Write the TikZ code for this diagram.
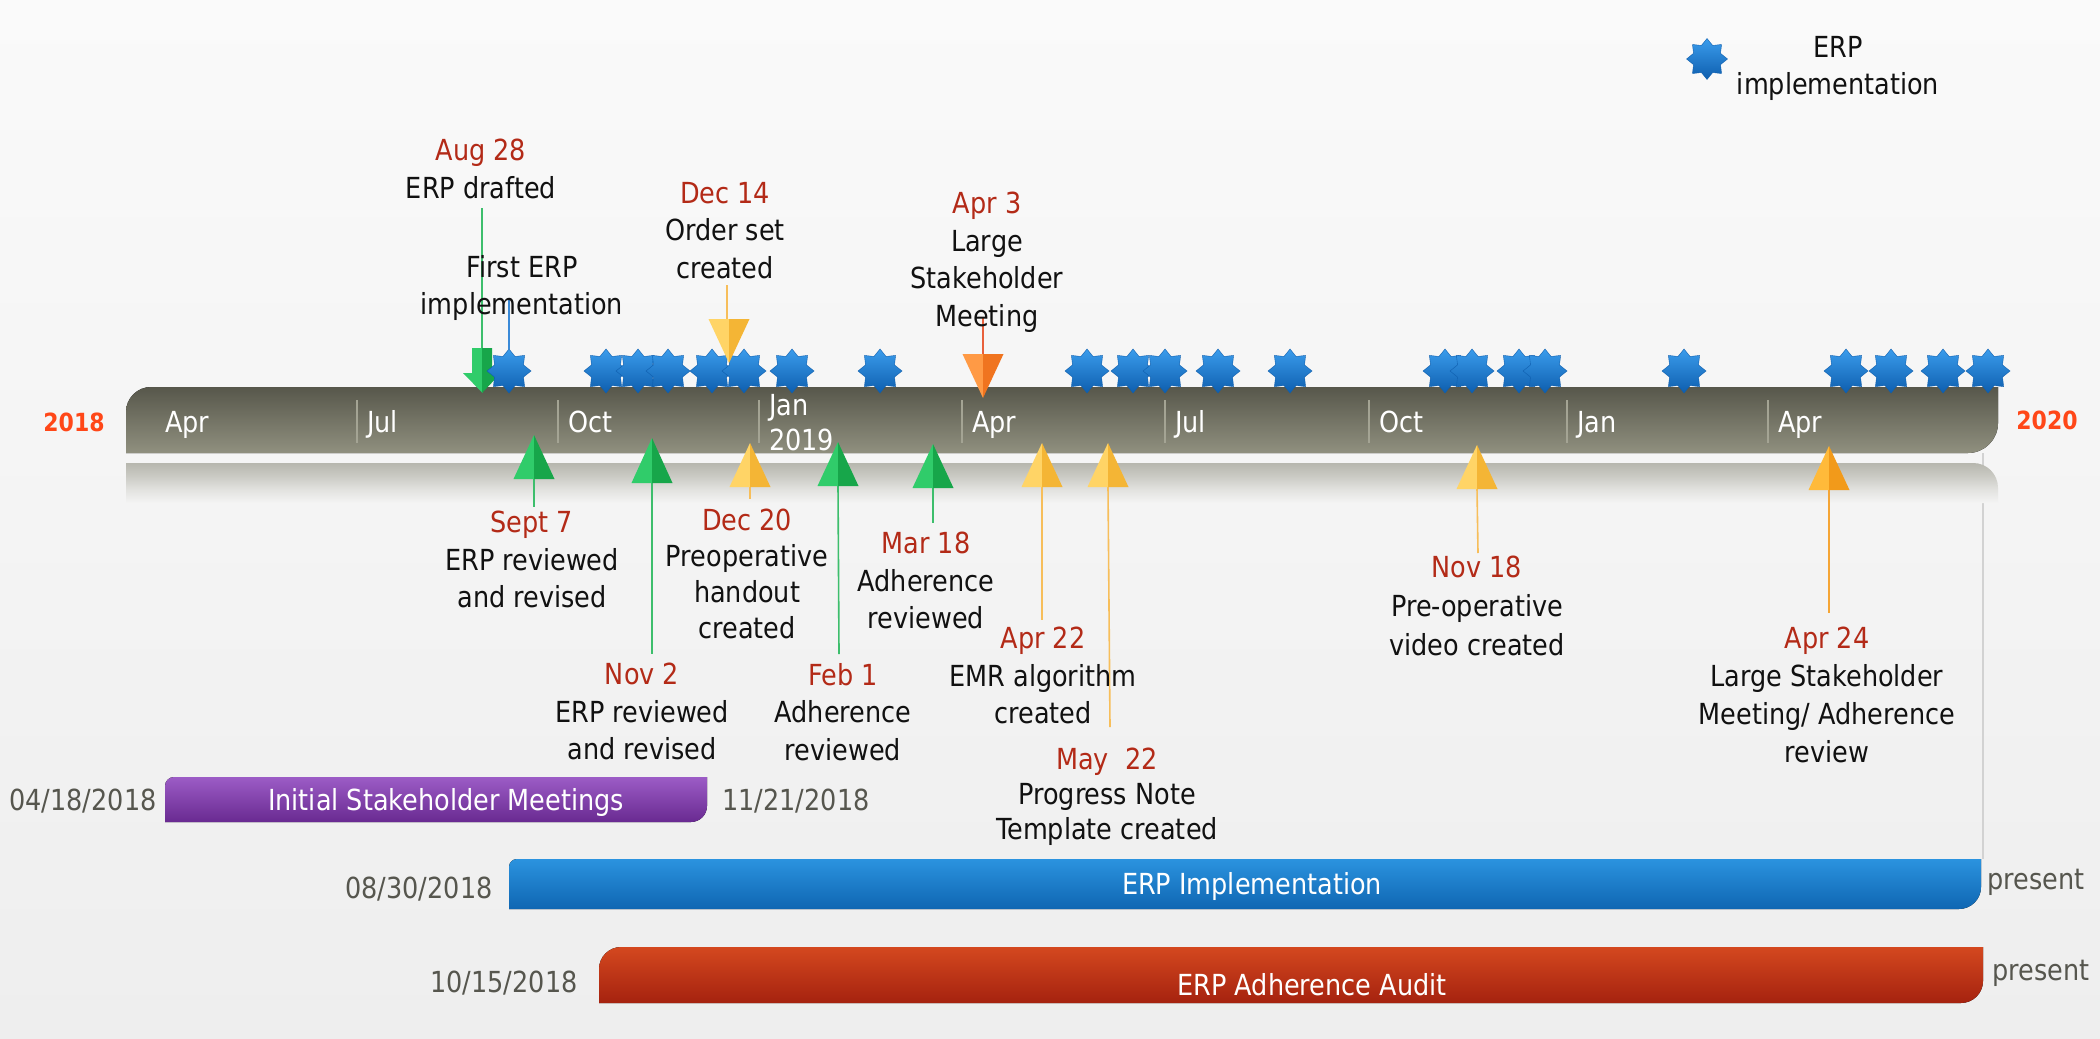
\documentclass[tikz,border=0pt]{standalone}
\usepackage{fontspec}
\setmainfont{DejaVu Sans}[FakeStretch=0.88]
\usetikzlibrary{shapes.geometric}
\definecolor{datered}{HTML}{B32A17}
\definecolor{yearred}{HTML}{FF4718}
\definecolor{txt}{HTML}{111111}
\definecolor{graytxt}{HTML}{56564E}
\definecolor{bgtop}{HTML}{FAFAFA}
\definecolor{bgbot}{HTML}{EEEEEE}
\definecolor{barTop}{HTML}{57574B}
\definecolor{barBot}{HTML}{90907F}
\definecolor{reflTop}{HTML}{B7B7AE}
\definecolor{reflA}{HTML}{CBCBC5}
\definecolor{reflB}{HTML}{E2E2DF}
\definecolor{reflBot}{HTML}{F4F4F4}
\definecolor{tickc}{HTML}{A4A494}
\definecolor{starhi}{HTML}{3A9CEC}
\definecolor{starlo}{HTML}{0E5EAE}
\definecolor{grnL}{HTML}{30CC6A}
\definecolor{grnR}{HTML}{17A64A}
\definecolor{grnLine}{HTML}{3DBE6C}
\definecolor{ylwL}{HTML}{FFD466}
\definecolor{ylwR}{HTML}{F4B535}
\definecolor{ylwLine}{HTML}{F7BE5A}
\definecolor{orgL}{HTML}{FF9A45}
\definecolor{orgR}{HTML}{F0741F}
\definecolor{orgLine}{HTML}{E8603C}
\definecolor{ambL}{HTML}{FFBA3A}
\definecolor{ambR}{HTML}{F29A1A}
\definecolor{ambLine}{HTML}{F5A535}
\definecolor{bluLine}{HTML}{3A8AD8}
\definecolor{purTop}{HTML}{9C5CC6}
\definecolor{purBot}{HTML}{692A91}
\definecolor{bluTop}{HTML}{2B93DF}
\definecolor{bluBot}{HTML}{0F66B2}
\definecolor{redTop}{HTML}{D4481F}
\definecolor{redBot}{HTML}{A5220F}
\definecolor{todayc}{HTML}{D2D2D2}

\pgfdeclareverticalshading{reflshade}{100bp}{color(0bp)=(reflBot); color(25bp)=(reflBot); color(42bp)=(reflB); color(58bp)=(reflA); color(75bp)=(reflTop); color(100bp)=(reflTop)}

\newcommand\roundbar[7]{\fill[#7] (#1,#4) -- (#1,#2+#5) .. controls (#1,#2+0.448*#5) and (#1+0.448*#5,#2) .. (#1+#5,#2) -- (#3,#2) -- (#3,#4-#6) .. controls (#3,#4-0.448*#6) and (#3-0.448*#6,#4) .. (#3-#6,#4) -- cycle;}
\newcommand\uptri[5]{%
  \fill[#4] (#1,#2) -- (#1-20.5,#3) -- (#1+0.5,#3) -- cycle;
  \fill[#5] (#1,#2) -- (#1+20.5,#3) -- (#1,#3) -- cycle;}
\newcommand\dntri[5]{%
  \fill[#4] (#1-20.5,#2) -- (#1+0.5,#2) -- (#1,#3) -- cycle;
  \fill[#5] (#1,#2) -- (#1+20.5,#2) -- (#1,#3) -- cycle;}

\begin{document}
\begin{tikzpicture}[x=1pt,y=-1pt,
  lbl/.style={align=center, inner sep=0pt, anchor=north, text=txt, font=\fontsize{29}{37.5}\selectfont},
  monthlbl/.style={anchor=base west, inner sep=0pt, text=white, font=\fontsize{29}{35}\selectfont},
  yearlbl/.style={anchor=base, inner sep=0pt, text=yearred, font=\fontsize{25}{30}\selectfont\bfseries},
  barlbl/.style={anchor=base, inner sep=0pt, text=white, font=\fontsize{29}{35}\selectfont},
  graylbl/.style={anchor=base, inner sep=0pt, text=graytxt, font=\fontsize{29}{35}\selectfont},
  erpstar/.style={star, star points=8, star point ratio=1.4, minimum size=44pt, inner sep=0pt,
    top color=starhi, bottom color=starlo, draw=starlo, line width=0.4pt},
  conn/.style={line width=1.6pt},
  tickline/.style={draw=tickc, line width=1.5pt}
]
\useasboundingbox (0,0) rectangle (2100,1038);
\fill[top color=bgtop, bottom color=bgbot] (0,0) rectangle (2100,1038);

% today line
\coordinate (todA) at (1983,453);
\coordinate (todB) at (1983,859);
\draw[todayc, line width=1.4pt] (todA) -- (todB);

% reflection band
\path[shading=reflshade] (126,503) -- (126,463) -- (1973,463) .. controls (1987,463) and (1998,474) .. (1998,488) -- (1998,503) -- cycle;

% main bar
\roundbar{126}{387}{1998}{453}{25}{30}{top color=barTop, bottom color=barBot}

% ticks
\foreach \t in {357,558,759,962,1165,1369,1567,1768}
  \draw[tickline] (\t,400) -- (\t,443);

% months
\node[monthlbl] (m1) at (165,432.5) {Apr};
\node[monthlbl] (m2) at (367,432.5) {Jul};
\node[monthlbl] (m3) at (568,432.5) {Oct};
\node[monthlbl] (m4) at (769,415.5) {Jan};
\node[monthlbl] (m4b) at (769,450.5) {2019};
\node[monthlbl] (m5) at (972,432.5) {Apr};
\node[monthlbl] (m6) at (1175,432.5) {Jul};
\node[monthlbl] (m7) at (1379,432.5) {Oct};
\node[monthlbl] (m8) at (1577,432.5) {Jan};
\node[monthlbl] (m9) at (1778,432.5) {Apr};

\node[yearlbl] (y18) at (74,431) {2018};
\node[yearlbl] (y20) at (2047,429) {2020};

% ---------- lower events: connectors ----------
\coordinate (sepA) at (534,479);  \coordinate (sepL) at (534,507);
\coordinate (novA) at (652,483);  \coordinate (novL) at (652,654);
\coordinate (decA) at (750,487);  \coordinate (decL) at (750,499);
\coordinate (febA) at (838,486);  \coordinate (febL) at (839,654);
\coordinate (marA) at (933,488);  \coordinate (marL) at (933,523);
\coordinate (apA) at (1042,487);  \coordinate (apL) at (1042,620);
\coordinate (mayA) at (1108,487); \coordinate (mayL) at (1110,727);
\coordinate (nvA) at (1477,489);  \coordinate (nvL) at (1478,553);
\coordinate (a24A) at (1829,490); \coordinate (a24L) at (1829,613);
\draw[conn, grnLine] (sepA) -- (sepL);
\draw[conn, grnLine] (novA) -- (novL);
\draw[conn, ylwLine] (decA) -- (decL);
\draw[conn, grnLine] (febA) -- (febL);
\draw[conn, grnLine] (marA) -- (marL);
\draw[conn, ylwLine] (apA) -- (apL);
\draw[conn, ylwLine] (mayA) -- (mayL);
\draw[conn, ylwLine] (nvA) -- (nvL);
\draw[conn, ambLine] (a24A) -- (a24L);

\uptri{534}{435}{479}{grnL}{grnR}
\uptri{652}{438}{483}{grnL}{grnR}
\uptri{750}{443}{487}{ylwL}{ylwR}
\uptri{838}{442}{486}{grnL}{grnR}
\uptri{933}{444}{488}{grnL}{grnR}
\uptri{1042}{443}{487}{ylwL}{ylwR}
\uptri{1108}{443}{487}{ylwL}{ylwR}
\uptri{1477}{445}{489}{ylwL}{ylwR}
\uptri{1829}{446}{490}{ambL}{ambR}

% ---------- upper events ----------
\coordinate (augA) at (482,348); \coordinate (augL) at (482,208);
\draw[conn, grnLine] (augL) -- (augA);
\fill[grnL] (472,348) -- (482.5,348) -- (482.5,393) -- (463,373) -- (472,373) -- cycle;
\fill[grnR] (482,348) -- (492,348) -- (492,373) -- (501,373) -- (482,393) -- cycle;

\foreach \x [count=\i] in {509,606,638,668,712,744,792,880,1087,1133,1165,1218,1290,1445,1472,1519,1545,1684,1846,1891,1943,1988}
  \node[erpstar] (s\i) at (\x,371) {};

\coordinate (firstL) at (509,299);
\draw[conn, bluLine] (s1.north) -- (firstL);

\coordinate (d14A) at (727,319); \coordinate (d14L) at (727,285);
\draw[conn, ylwLine] (d14L) -- (d14A);
\dntri{729}{319}{363}{ylwL}{ylwR}

\coordinate (a3A) at (983,354); \coordinate (a3L) at (983,317);
\draw[conn, orgLine] (a3L) -- (a3A);
\dntri{983}{354}{398}{orgL}{orgR}

% ---------- labels ----------
\node[lbl] (lAug) at (481,139) {\textcolor{datered}{Aug 28}\\ERP drafted};
\node[lbl] (lFirst) at (522,255) {First ERP\\implementation};
\node[lbl] (lD14) at (725,182) {\textcolor{datered}{Dec 14}\\Order set\\created};
\node[lbl] (lA3) at (987,192) {\textcolor{datered}{Apr 3}\\Large\\Stakeholder\\Meeting};

\node[lbl] (lSep) at (532,511) {\textcolor{datered}{Sept 7}\\ERP reviewed\\and revised};
\node[lbl] (lNov) at (642,663) {\textcolor{datered}{Nov 2}\\ERP reviewed\\and revised};
\node[lbl, font=\fontsize{29}{36}\selectfont] (lD20) at (747,509) {\textcolor{datered}{Dec 20}\\Preoperative\\handout\\created};
\node[lbl] (lFeb) at (843,663) {\textcolor{datered}{Feb 1}\\Adherence\\reviewed};
\node[lbl] (lMar) at (926,532) {\textcolor{datered}{Mar 18}\\Adherence\\reviewed};
\node[lbl] (lA22) at (1043,627) {\textcolor{datered}{Apr 22}\\EMR algorithm\\created};
\node[lbl, font=\fontsize{29}{35}\selectfont] (lMay) at (1107,748) {\textcolor{datered}{May\ \ 22}\\Progress Note\\Template created};
\node[lbl, font=\fontsize{29}{39}\selectfont] (lN18) at (1477,556) {\textcolor{datered}{Nov 18}\\Pre-operative\\video created};
\node[lbl, font=\fontsize{29}{38}\selectfont] (lA24) at (1827,627) {\textcolor{datered}{Apr 24}\\Large Stakeholder\\Meeting/ Adherence\\review};

% legend
\node[erpstar, minimum size=41pt] (legS) at (1707,59) {};
\node[lbl] (legT) at (1838,36) {ERP\\implementation};

% ---------- range bars ----------
\roundbar{165}{777}{707}{822}{9}{16}{top color=purTop, bottom color=purBot}
\node[barlbl] (gIni) at (446,810.5) {Initial Stakeholder Meetings};
\node[graylbl] (gIniS) at (83,810.5) {04/18/2018};
\node[graylbl] (gIniE) at (796,810.5) {11/21/2018};

\roundbar{509}{859}{1981}{909}{8}{22}{top color=bluTop, bottom color=bluBot}
\node[barlbl] (gImp) at (1252,894.5) {ERP Implementation};
\node[graylbl] (gImpS) at (419,898.5) {08/30/2018};
\node[graylbl] (gImpE) at (2036,889) {present};

\roundbar{599}{947}{1983}{1003}{22}{22}{top color=redTop, bottom color=redBot}
\node[barlbl] (gAud) at (1312,995.5) {ERP Adherence Audit};
\node[graylbl] (gAudS) at (504,992.5) {10/15/2018};
\node[graylbl] (gAudE) at (2041,980) {present};
\end{tikzpicture}
\end{document}
